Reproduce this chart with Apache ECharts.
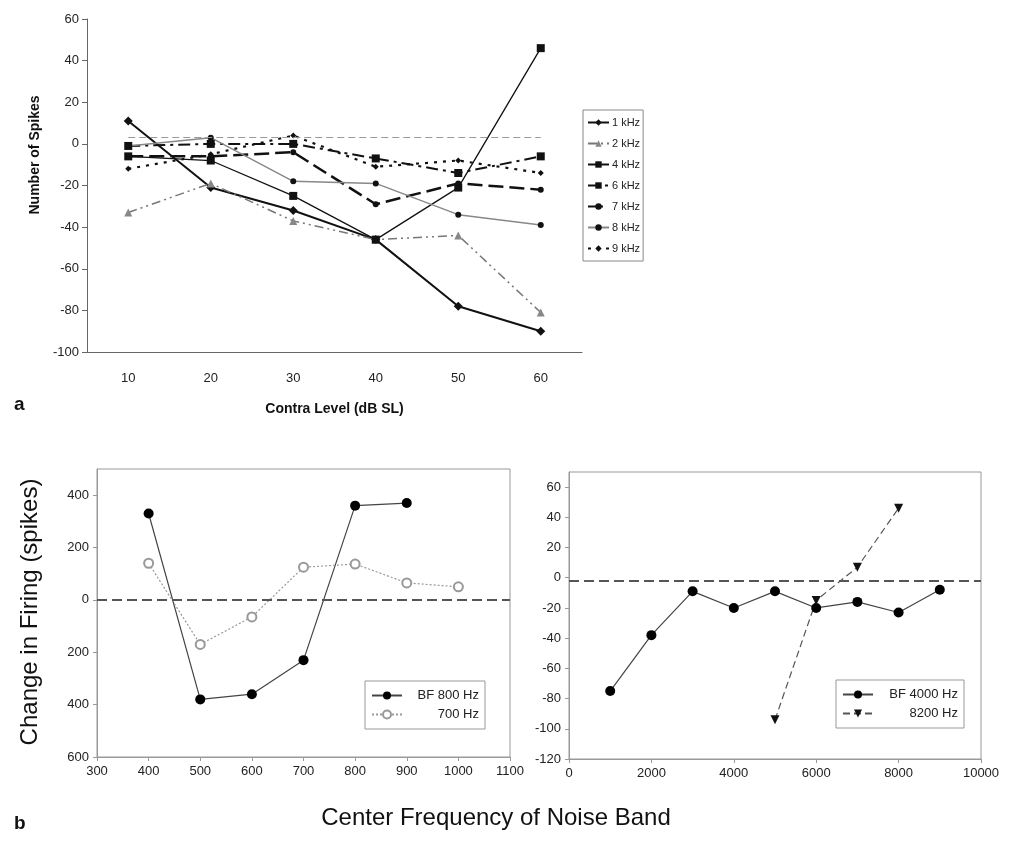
<!DOCTYPE html>
<html>
<head>
<meta charset="utf-8">
<script src="https://cdn.jsdelivr.net/npm/echarts@6/dist/echarts.min.js"></script>
<style>
  html, body { margin: 0; padding: 0; background: #fff; }
  #chart { width: 1017px; height: 851px; }
</style>
</head>
<body>
<div id="chart"></div>
<script>
// Panel a: spikes vs contra level
const contraLevels = ['10', '20', '30', '40', '50', '60'];
const spikes1k = [11, -21, -32, -46, -78, -90];
const spikes2k = [-33, -19, -37, -46, -44, -81];
const spikes4k = [-6, -8, -25, -46, -21, 46];
const spikes6k = [-1, 0, 0, -7, -14, -6];
const spikes7k = [-6, -6, -4, -29, -19, -22];
const spikes8k = [-1, 3, -18, -19, -34, -39];
const spikes9k = [-12, -5, 4, -11, -8, -14];
const refLevelA = 3;

// Panel b, left: BF 800 Hz unit
const bandFreqLow = [400, 500, 600, 700, 800, 900, 1000];
const firingBF800 = [330, -380, -360, -230, 360, 370];
const firing700 = [140, -170, -65, 125, 137, 65, 50];

// Panel b, right: BF 4000 Hz unit
const bandFreqHigh = [1000, 2000, 3000, 4000, 5000, 6000, 7000, 8000, 9000];
const firingBF4000 = [-75, -38, -9, -20, -9, -20, -16, -23, -8];
const bandFreq8200 = [5000, 6000, 7000, 8000];
const firing8200 = [-94, -15, 7, 46];
const refLevelRight = -2;

const FONT = '"Liberation Sans", Arial, sans-serif';

function pairs(xs, ys) {
    return ys.map((y, i) => [xs[i], y]);
}

const chart = echarts.init(document.getElementById('chart'));

const tickText = { color: '#222', fontFamily: FONT, fontSize: 13 };
const tickTextB = { color: '#222', fontFamily: FONT, fontSize: 13 };
const plain = v => String(v);

const option = {
    animation: false,
    backgroundColor: '#fff',
    grid: [
        { left: 87, top: 19, width: 495, height: 333 },
        { left: 97, top: 469, width: 413, height: 288, show: true, borderColor: '#999', borderWidth: 1 },
        { left: 569, top: 472, width: 412, height: 287, show: true, borderColor: '#999', borderWidth: 1 }
    ],
    xAxis: [
        {
            gridIndex: 0, type: 'category', data: contraLevels, boundaryGap: true,
            name: 'Contra Level (dB SL)', nameLocation: 'middle', nameGap: 50,
            nameTextStyle: { fontFamily: FONT, fontSize: 14, fontWeight: 'bold', color: '#111' },
            axisLine: { onZero: false, lineStyle: { color: '#666', width: 1 } },
            axisTick: { alignWithLabel: false, length: 5, lineStyle: { color: '#666' } },
            axisLabel: Object.assign({ margin: 20 }, tickText),
            splitLine: { show: false }
        },
        {
            gridIndex: 1, type: 'value', min: 300, max: 1100, interval: 100,
            axisLine: { onZero: false, lineStyle: { color: '#999' } },
            axisTick: { length: 4, lineStyle: { color: '#999' } },
            axisLabel: Object.assign({ margin: 8, formatter: plain }, tickTextB),
            splitLine: { show: false }
        },
        {
            gridIndex: 2, type: 'value', min: 0, max: 10000, interval: 2000,
            axisLine: { onZero: false, lineStyle: { color: '#999' } },
            axisTick: { length: 4, lineStyle: { color: '#999' } },
            axisLabel: Object.assign({ margin: 8, formatter: plain }, tickTextB),
            splitLine: { show: false }
        }
    ],
    yAxis: [
        {
            gridIndex: 0, type: 'value', min: -100, max: 60, interval: 20,
            axisLine: { show: true, onZero: false, lineStyle: { color: '#666', width: 1 } },
            axisTick: { show: true, length: 5, lineStyle: { color: '#666' } },
            axisLabel: tickText,
            splitLine: { show: false }
        },
        {
            gridIndex: 1, type: 'value', min: -600, max: 500, interval: 200,
            axisLine: { show: true, onZero: false, lineStyle: { color: '#999' } },
            axisTick: { show: true, length: 4, lineStyle: { color: '#999' } },
            axisLabel: Object.assign({ formatter: v => String(Math.abs(v)), margin: 8, showMaxLabel: false }, tickTextB),
            splitLine: { show: false }
        },
        {
            gridIndex: 2, type: 'value', min: -120, max: 70, interval: 20,
            axisLine: { show: true, onZero: false, lineStyle: { color: '#999' } },
            axisTick: { show: true, length: 4, lineStyle: { color: '#999' } },
            axisLabel: Object.assign({ margin: 8, showMaxLabel: false }, tickTextB),
            splitLine: { show: false }
        }
    ],
    legend: [
        {
            data: ['1 kHz', '2 kHz', '4 kHz', '6 kHz', '7 kHz', '8 kHz', '9 kHz'],
            orient: 'vertical', left: 583, top: 110,
            borderColor: '#888', borderWidth: 1, padding: [7, 3, 7, 4],
            itemWidth: 21, itemHeight: 8, itemGap: 10,
            textStyle: { fontFamily: FONT, fontSize: 11, color: '#222', padding: [0, 0, 0, -2] }
        },
        {
            data: ['BF 800 Hz', '700 Hz'],
            orient: 'vertical', left: 365, top: 681,
            borderColor: '#999', borderWidth: 1, padding: [8, 6, 8, 6],
            itemWidth: 30, itemHeight: 10, itemGap: 6,
            formatter: name => '{t|' + name + '}',
            textStyle: {
                fontFamily: FONT, fontSize: 13, color: '#222',
                rich: { t: { width: 72, align: 'right', fontFamily: FONT, fontSize: 13, color: '#222' } }
            }
        },
        {
            data: ['BF 4000 Hz', '8200 Hz'],
            orient: 'vertical', left: 836, top: 680,
            borderColor: '#999', borderWidth: 1, padding: [8, 6, 8, 6],
            itemWidth: 30, itemHeight: 10, itemGap: 6,
            formatter: name => '{t|' + name + '}',
            textStyle: {
                fontFamily: FONT, fontSize: 13, color: '#222',
                rich: { t: { width: 80, align: 'right', fontFamily: FONT, fontSize: 13, color: '#222' } }
            }
        }
    ],
    graphic: [
        {
            type: 'text', x: 35, y: 155, rotation: Math.PI / 2,
            style: {
                text: 'Number of Spikes', fontFamily: FONT, fontSize: 14, fontWeight: 'bold',
                fill: '#111', align: 'center', verticalAlign: 'middle'
            }
        },
        {
            type: 'text', left: 14, top: 395,
            style: { text: 'a', fontFamily: FONT, fontSize: 19, fontWeight: 'bold', fill: '#111' }
        },
        {
            type: 'text', left: 14, top: 814,
            style: { text: 'b', fontFamily: FONT, fontSize: 19, fontWeight: 'bold', fill: '#111' }
        },
        {
            type: 'text', x: 30, y: 612, rotation: Math.PI / 2,
            style: {
                text: 'Change in Firing (spikes)', fontFamily: FONT, fontSize: 24,
                fill: '#111', align: 'center', verticalAlign: 'middle'
            }
        },
        {
            type: 'text', x: 496, y: 818,
            style: {
                text: 'Center Frequency of Noise Band', fontFamily: FONT, fontSize: 24,
                fill: '#111', align: 'center', verticalAlign: 'middle'
            }
        }
    ],
    series: [
        {
            name: '1 kHz', type: 'line', xAxisIndex: 0, yAxisIndex: 0, data: spikes1k,
            symbol: 'diamond', symbolSize: 9,
            lineStyle: { color: '#111', width: 2 }, itemStyle: { color: '#111' },
            markLine: {
                silent: true, symbol: 'none', label: { show: false },
                lineStyle: { color: '#999', type: [7, 4], width: 1.2 },
                data: [[{ coord: ['10', refLevelA] }, { coord: ['60', refLevelA] }]]
            }
        },
        {
            name: '2 kHz', type: 'line', xAxisIndex: 0, yAxisIndex: 0, data: spikes2k,
            symbol: 'triangle', symbolSize: 8,
            lineStyle: { color: '#777', width: 1.5, type: [9, 4, 2, 4, 2, 4] }, itemStyle: { color: '#888' }
        },
        {
            name: '4 kHz', type: 'line', xAxisIndex: 0, yAxisIndex: 0, data: spikes4k,
            symbol: 'rect', symbolSize: 8,
            lineStyle: { color: '#111', width: 1.3 }, itemStyle: { color: '#111' }
        },
        {
            name: '6 kHz', type: 'line', xAxisIndex: 0, yAxisIndex: 0, data: spikes6k,
            symbol: 'rect', symbolSize: 8,
            lineStyle: { color: '#111', width: 2, type: [12, 5, 3, 5] }, itemStyle: { color: '#111' }
        },
        {
            name: '7 kHz', type: 'line', xAxisIndex: 0, yAxisIndex: 0, data: spikes7k,
            symbol: 'circle', symbolSize: 6,
            lineStyle: { color: '#111', width: 2.5, type: [15, 6] }, itemStyle: { color: '#111' }
        },
        {
            name: '8 kHz', type: 'line', xAxisIndex: 0, yAxisIndex: 0, data: spikes8k,
            symbol: 'circle', symbolSize: 6,
            lineStyle: { color: '#888', width: 1.5 }, itemStyle: { color: '#111' }
        },
        {
            name: '9 kHz', type: 'line', xAxisIndex: 0, yAxisIndex: 0, data: spikes9k,
            symbol: 'diamond', symbolSize: 6,
            lineStyle: { color: '#111', width: 2.2, type: [3, 6] }, itemStyle: { color: '#111' }
        },
        {
            name: 'BF 800 Hz', type: 'line', xAxisIndex: 1, yAxisIndex: 1,
            data: pairs(bandFreqLow, firingBF800),
            symbol: 'circle', symbolSize: 10,
            lineStyle: { color: '#444', width: 1.2 }, itemStyle: { color: '#000' },
            markLine: {
                silent: true, symbol: 'none', label: { show: false },
                lineStyle: { color: '#555', type: [10, 5], width: 2 },
                data: [{ yAxis: 0 }]
            }
        },
        {
            name: '700 Hz', type: 'line', xAxisIndex: 1, yAxisIndex: 1,
            data: pairs(bandFreqLow, firing700),
            symbol: 'emptyCircle', symbolSize: 9,
            lineStyle: { color: '#999', width: 1.2, type: [2, 2] },
            itemStyle: { color: '#999', borderColor: '#999', borderWidth: 1.5 }
        },
        {
            name: 'BF 4000 Hz', type: 'line', xAxisIndex: 2, yAxisIndex: 2,
            data: pairs(bandFreqHigh, firingBF4000),
            symbol: 'circle', symbolSize: 10,
            lineStyle: { color: '#444', width: 1.2 }, itemStyle: { color: '#000' },
            markLine: {
                silent: true, symbol: 'none', label: { show: false },
                lineStyle: { color: '#555', type: [10, 5], width: 2 },
                data: [{ yAxis: refLevelRight }]
            }
        },
        {
            name: '8200 Hz', type: 'line', xAxisIndex: 2, yAxisIndex: 2,
            data: pairs(bandFreq8200, firing8200),
            symbol: 'triangle', symbolRotate: 180, symbolSize: 9,
            lineStyle: { color: '#555', width: 1.2, type: [7, 4] }, itemStyle: { color: '#111' }
        }
    ]
};

chart.setOption(option);
</script>
</body>
</html>
